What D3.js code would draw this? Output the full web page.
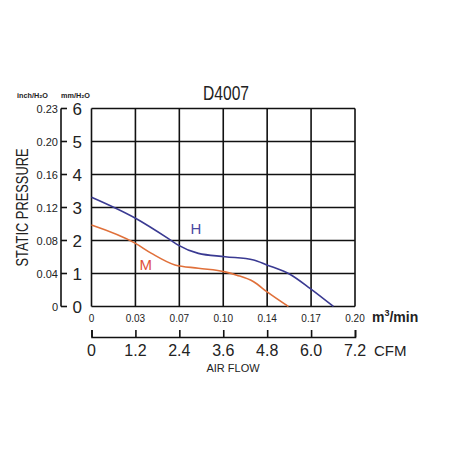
<!DOCTYPE html>
<html>
<head>
<meta charset="utf-8">
<script src="https://cdn.jsdelivr.net/npm/d3@7"></script>
<style>
  body { margin: 0; background: #fff; }
  text { font-family: "Liberation Sans", Arial, sans-serif; fill: #222; }
</style>
</head>
<body>
<div id="chart"></div>
<script>
var title = "D4007";
var cfmTicks = [0, 1.2, 2.4, 3.6, 4.8, 6.0, 7.2];
var m3Labels = ["0", "0.03", "0.07", "0.10", "0.14", "0.17", "0.20"];
var mmTicks = [0, 1, 2, 3, 4, 5, 6];
var inchLabels = ["0", "0.04", "0.08", "0.12", "0.16", "0.20", "0.23"];

// airflow in CFM, pressure in mmH2O
var curveH = [[0, 3.31], [1.19, 2.68], [2.15, 2.02], [2.37, 1.86], [2.92, 1.61], [3.65, 1.51],
              [4.43, 1.41], [4.79, 1.26], [5.43, 0.97], [5.97, 0.55], [6.61, 0]];
var curveM = [[0, 2.47], [1.19, 1.92], [1.64, 1.61], [2.28, 1.26], [2.92, 1.16], [3.65, 1.05],
              [3.97, 0.95], [4.43, 0.75], [4.79, 0.45], [5.38, 0]];

var W = 452, H = 452;
var plotL = 91.5, plotR = 355, plotT = 108.5, plotB = 306.5;

var svg = d3.select("#chart").append("svg")
  .attr("width", W).attr("height", H);

var x = d3.scaleLinear().domain([0, 7.2]).range([plotL, plotR]);
var y = d3.scaleLinear().domain([0, 6]).range([plotB, plotT]);

// grid
var grid = svg.append("g");
grid.selectAll(".vl").data(cfmTicks).enter().append("line")
  .attr("x1", function(d) { return x(d); }).attr("x2", function(d) { return x(d); })
  .attr("y1", plotT).attr("y2", plotB)
  .attr("stroke", "#111").attr("stroke-width", 1.6);
grid.selectAll(".hl").data(mmTicks).enter().append("line")
  .attr("y1", function(d) { return y(d); }).attr("y2", function(d) { return y(d); })
  .attr("x1", plotL).attr("x2", plotR)
  .attr("stroke", "#111").attr("stroke-width", 1.6);

// curves
var line = d3.line()
  .x(function(d) { return x(d[0]); })
  .y(function(d) { return y(d[1]); })
  .curve(d3.curveMonotoneX);

svg.append("path").datum(curveM)
  .attr("fill", "none").attr("stroke", "#e0703a").attr("stroke-width", 1.6)
  .attr("d", line);
svg.append("path").datum(curveH)
  .attr("fill", "none").attr("stroke", "#3a3a92").attr("stroke-width", 1.6)
  .attr("d", line);

svg.append("text").attr("x", x(2.85)).attr("y", y(2.2))
  .attr("text-anchor", "middle").style("font-size", "15px").style("fill", "#4a4aa0")
  .text("H");
svg.append("text").attr("x", x(1.48)).attr("y", y(1.1))
  .attr("text-anchor", "middle").style("font-size", "15px").style("fill", "#e0503a")
  .text("M");

// title
svg.append("text").attr("x", 226).attr("y", 100)
  .attr("text-anchor", "middle").style("font-size", "21px")
  .attr("textLength", 46).attr("lengthAdjust", "spacingAndGlyphs")
  .text(title);

// left axes
var yAxisX = 61;
svg.append("line").attr("x1", yAxisX).attr("x2", yAxisX)
  .attr("y1", y(6)).attr("y2", y(0)).attr("stroke", "#111").attr("stroke-width", 1.6);
svg.selectAll(".ytick").data(mmTicks).enter().append("line")
  .attr("x1", yAxisX).attr("x2", yAxisX + 6)
  .attr("y1", function(d) { return y(d); }).attr("y2", function(d) { return y(d); })
  .attr("stroke", "#111").attr("stroke-width", 1.6);

svg.selectAll(".mm").data(mmTicks).enter().append("text")
  .attr("x", 82).attr("y", function(d) { return y(d) + 6; })
  .attr("text-anchor", "end").style("font-size", "17px")
  .text(function(d) { return d; });

svg.selectAll(".inch").data(mmTicks).enter().append("text")
  .attr("x", 58).attr("y", function(d) { return y(d) + 4; })
  .attr("text-anchor", "end").style("font-size", "11px")
  .text(function(d, i) { return inchLabels[i]; });

svg.append("text").attr("x", 17).attr("y", 98)
  .style("font-size", "8px").style("font-weight", "bold")
  .attr("textLength", 31).attr("lengthAdjust", "spacingAndGlyphs")
  .text("inch/H₂O");
svg.append("text").attr("x", 61).attr("y", 98)
  .style("font-size", "8px").style("font-weight", "bold")
  .attr("textLength", 29).attr("lengthAdjust", "spacingAndGlyphs")
  .text("mm/H₂O");

svg.append("text")
  .attr("transform", "translate(28," + ((plotT + plotB) / 2) + ") rotate(-90)")
  .attr("text-anchor", "middle").style("font-size", "17px")
  .attr("textLength", 118).attr("lengthAdjust", "spacingAndGlyphs")
  .text("STATIC PRESSURE");

// top x labels (m3/min)
svg.selectAll(".m3").data(cfmTicks).enter().append("text")
  .attr("x", function(d) { return x(d); }).attr("y", 322)
  .attr("text-anchor", "middle").style("font-size", "10px")
  .text(function(d, i) { return m3Labels[i]; });

var unit = svg.append("text").attr("x", 372).attr("y", 322)
  .style("font-size", "14px").style("font-weight", "bold");
unit.append("tspan").text("m");
unit.append("tspan").attr("dy", -6).style("font-size", "9px").text("3");
unit.append("tspan").attr("dy", 6).text("/min");

// CFM axis
var cfmAxis = svg.append("g").attr("transform", "translate(0,337)")
  .call(d3.axisTop(x).tickValues(cfmTicks).tickFormat("").tickSize(7).tickSizeOuter(7));
cfmAxis.select(".domain").attr("stroke", "#111").attr("stroke-width", 1.6);
cfmAxis.selectAll(".tick line").attr("stroke", "#111").attr("stroke-width", 1.6);

svg.selectAll(".cfm").data(cfmTicks).enter().append("text")
  .attr("x", function(d) { return x(d); }).attr("y", 356)
  .attr("text-anchor", "middle").style("font-size", "16px")
  .text(function(d) { return d === 0 ? "0" : d.toFixed(1); });

svg.append("text").attr("x", 374).attr("y", 356)
  .style("font-size", "15px").text("CFM");

svg.append("text").attr("x", 233).attr("y", 372)
  .attr("text-anchor", "middle").style("font-size", "11px")
  .text("AIR FLOW");
</script>
</body>
</html>
